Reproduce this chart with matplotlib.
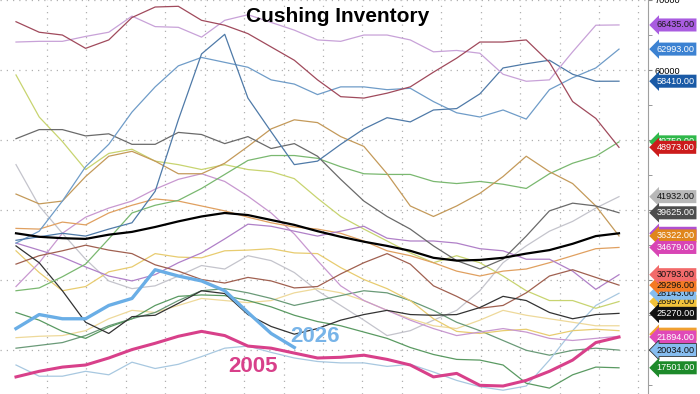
import matplotlib
matplotlib.use("Agg")
import matplotlib.pyplot as plt
import matplotlib.font_manager as fm
from matplotlib.ticker import MultipleLocator
import numpy as np

# biweekly points through the year, values in thousand barrels
weeks = list(range(0, 53, 2))
weeks_2026 = weeks[:13]

y_maroon = [66.9, 65.4, 65.0, 63.1, 64.3, 67.5, 69.0, 69.1, 67.1, 66.4, 65.2, 63.3, 61.4, 58.6, 56.2, 56.0, 56.7, 57.6, 59.7, 61.7, 64.0, 64.0, 64.3, 61.1, 55.5, 53.1, 48.97]
y_lavender = [64.0, 64.1, 64.1, 64.8, 65.4, 67.7, 66.2, 66.1, 64.7, 67.1, 67.9, 66.8, 65.7, 64.3, 64.1, 65.0, 65.0, 64.3, 62.6, 62.8, 62.4, 59.4, 58.4, 58.6, 62.6, 66.4, 66.44]
y_peak = [35.7, 36.2, 36.7, 36.3, 37.3, 38.2, 42.7, 52.9, 62.3, 65.1, 56.0, 51.2, 46.5, 47.0, 49.4, 51.6, 53.2, 52.6, 54.3, 54.5, 56.6, 60.3, 60.9, 61.4, 59.4, 58.4, 58.41]
y_blue = [35.3, 37.0, 41.3, 46.2, 49.4, 54.0, 57.6, 60.6, 61.8, 61.1, 60.4, 58.6, 58.0, 56.5, 57.6, 57.6, 57.2, 57.4, 55.5, 53.9, 53.3, 54.3, 53.0, 57.2, 58.9, 60.3, 62.99]
y_darkgray = [50.2, 51.5, 51.5, 50.6, 50.9, 49.4, 49.4, 51.1, 50.8, 49.5, 50.5, 48.8, 49.5, 47.7, 44.4, 41.3, 39.1, 37.3, 34.9, 32.8, 31.6, 33.0, 36.3, 39.9, 41.0, 40.6, 39.63]
y_tan = [42.3, 40.9, 41.3, 44.8, 47.7, 48.4, 47.0, 45.2, 45.2, 46.7, 49.1, 51.6, 52.9, 52.5, 50.5, 49.1, 45.2, 40.6, 39.1, 40.6, 42.4, 44.8, 47.7, 45.5, 43.8, 40.6, 36.32]
y_green = [28.5, 28.9, 30.5, 32.3, 35.9, 39.6, 40.7, 41.4, 43.1, 45.1, 47.1, 47.8, 47.8, 47.4, 46.2, 45.2, 45.1, 45.1, 44.1, 43.8, 44.1, 43.7, 43.1, 45.2, 46.7, 47.7, 49.75]
y_average = [36.7, 36.2, 36.0, 35.9, 36.5, 36.9, 37.6, 38.4, 39.1, 39.6, 39.3, 38.6, 37.9, 37.0, 36.2, 35.5, 34.9, 34.2, 33.2, 32.8, 32.9, 33.2, 33.8, 34.3, 35.2, 36.3, 36.7]
y_2026 = [23.1, 25.1, 24.5, 24.5, 26.4, 27.4, 31.5, 30.6, 29.9, 28.5, 25.4, 22.4, 20.4]
y_2005 = [16.2, 17.0, 17.6, 17.9, 18.9, 20.1, 21.0, 22.0, 22.7, 22.1, 20.6, 20.3, 19.6, 18.9, 19.0, 19.3, 18.7, 17.9, 16.2, 16.7, 15.0, 14.9, 15.7, 17.0, 18.6, 21.1, 21.89]
y_black = [34.9, 32.5, 28.5, 24.0, 22.4, 24.8, 25.0, 26.7, 28.5, 28.1, 25.1, 23.4, 22.3, 23.1, 24.3, 25.1, 25.7, 25.1, 25.0, 25.1, 26.1, 27.7, 27.1, 25.4, 24.5, 25.1, 25.27]
y_brown = [32.3, 33.5, 34.2, 35.0, 34.3, 33.8, 32.2, 31.3, 30.1, 29.6, 30.4, 29.9, 28.9, 29.1, 30.9, 32.5, 33.8, 32.3, 29.2, 27.7, 26.0, 26.4, 28.2, 30.6, 31.5, 30.4, 29.3]
y_purple = [35.3, 34.3, 33.3, 31.9, 30.6, 29.9, 30.8, 32.5, 33.9, 35.9, 38.0, 37.7, 37.0, 36.3, 37.0, 37.7, 36.0, 35.6, 35.6, 35.3, 34.5, 34.2, 33.0, 33.0, 31.3, 28.7, 30.79]
y_orange = [37.4, 37.3, 38.3, 37.9, 39.6, 40.7, 41.6, 41.3, 40.6, 39.9, 39.0, 38.2, 37.6, 37.3, 36.7, 35.6, 34.2, 33.5, 32.5, 31.3, 30.6, 31.3, 31.6, 32.5, 33.5, 34.5, 34.68]
y_yellow = [34.2, 31.1, 28.5, 29.1, 31.2, 31.9, 33.8, 33.3, 33.2, 34.2, 34.3, 34.5, 33.9, 33.8, 31.8, 30.1, 28.8, 27.1, 24.5, 22.7, 22.4, 22.8, 23.0, 22.1, 22.8, 23.0, 22.8]
y_lilac = [29.1, 32.5, 36.7, 39.0, 40.3, 41.3, 43.0, 44.4, 45.2, 44.1, 42.0, 39.6, 36.6, 32.8, 29.2, 27.1, 25.7, 24.3, 23.1, 22.1, 22.6, 23.1, 22.6, 21.7, 21.4, 21.7, 22.0]
y_darkgreen = [25.4, 24.3, 22.7, 21.7, 23.3, 24.5, 26.4, 27.7, 27.9, 27.8, 27.1, 26.2, 25.0, 24.1, 23.5, 22.6, 21.7, 20.4, 19.4, 18.7, 18.6, 17.9, 15.3, 14.6, 16.5, 17.6, 17.5]
y_lightgray = [46.5, 40.6, 36.7, 33.0, 29.9, 28.8, 29.2, 30.6, 32.1, 31.6, 33.5, 32.8, 31.1, 28.5, 26.4, 24.3, 22.1, 22.8, 24.3, 25.7, 28.5, 32.5, 34.9, 37.0, 38.4, 40.3, 41.93]
y_yellowgreen = [59.3, 53.3, 49.8, 45.8, 48.1, 48.7, 47.0, 46.5, 45.8, 46.5, 45.8, 45.5, 44.5, 41.7, 39.1, 37.3, 35.6, 33.9, 32.5, 33.5, 32.5, 30.6, 28.5, 27.1, 27.1, 26.0, 26.96]
y_paleyellow = [21.8, 22.0, 22.1, 22.8, 24.5, 25.7, 25.4, 26.4, 27.4, 27.1, 26.8, 27.1, 28.2, 28.8, 28.2, 27.1, 25.7, 24.5, 23.5, 23.1, 24.3, 25.7, 25.0, 24.5, 24.0, 23.5, 23.5]
y_lightblue = [17.9, 16.3, 16.3, 17.0, 16.5, 18.3, 17.4, 18.0, 19.1, 20.3, 20.6, 19.7, 18.9, 18.4, 18.2, 18.2, 17.7, 18.0, 16.9, 15.7, 14.8, 14.3, 14.9, 18.6, 22.8, 26.4, 28.14]
y_greengray = [20.3, 20.7, 21.1, 22.1, 23.5, 24.5, 25.4, 27.1, 28.5, 28.8, 28.2, 27.4, 26.4, 27.1, 27.8, 28.5, 28.2, 27.1, 25.7, 24.0, 22.8, 21.4, 20.0, 19.3, 20.0, 20.3, 20.03]

# last-value tags on the right axis
tag_text = ["49750.00", "48973.00", "66435.00", "62993.00", "58410.00", "41932.00", "39625.00",
            "36700.00", "36322.00", "34679.00", "26957.00", "25270.00", "28143.00", "29296.00",
            "30793.00", "22300.00", "21894.00", "20034.00", "17501.00"]
tag_value = [49.75, 48.973, 66.435, 62.993, 58.41, 41.932, 39.625, 36.7, 36.322, 34.679,
             26.957, 25.27, 28.143, 29.296, 30.793, 22.3, 21.894, 20.034, 17.501]
tag_color = ["#2fb84a", "#cc1b1b", "#a95ce0", "#3c82d2", "#1a5aa6", "#b8b8b8", "#4d4d4d",
             "#b050d0", "#e0861c", "#d845b5", "#f2c23a", "#111111", "#86bdf0", "#f47a24",
             "#f26a6a", "#f0a030", "#e04ab8", "#86bdf0", "#1d8a2a"]
tag_textcolor = ["white", "white", "#1a1a1a", "white", "white", "#111111", "white",
                 "white", "white", "white", "#111111", "white", "#111111", "#111111",
                 "#111111", "#111111", "white", "#111111", "white"]

names = {f.name for f in fm.fontManager.ttflist}
tag_font = "Liberation Sans Narrow" if "Liberation Sans Narrow" in names else "Liberation Sans"
tag_size = 7.8 if tag_font == "Liberation Sans Narrow" else 6.6

fig = plt.figure(figsize=(7, 3.94), dpi=100)
ax = fig.add_axes([0, 0, 648 / 700, 1])

thin = [
    (y_lightgray, "#c4c4cc"), (y_paleyellow, "#eed99a"), (y_greengray, "#6a9a78"),
    (y_lightblue, "#a8c8e0"), (y_yellowgreen, "#c8d470"), (y_yellow, "#e8cc70"),
    (y_lilac, "#c898d0"), (y_orange, "#e0a060"), (y_purple, "#b080c8"),
    (y_brown, "#a06050"), (y_darkgreen, "#5a9a62"), (y_black, "#333333"),
    (y_green, "#7ab870"), (y_tan, "#c49a5a"), (y_darkgray, "#6a6a6a"),
    (y_blue, "#6f9cc8"), (y_peak, "#4f7aa8"), (y_lavender, "#c8a2d8"),
    (y_maroon, "#a04a5c"),
]
for vals, col in thin:
    ax.plot(weeks, np.array(vals) * 1000, color=col, lw=0.9, zorder=2)

ax.plot(weeks, np.array(y_average) * 1000, color="black", lw=1.6, zorder=3)
ax.plot(weeks, np.array(y_2005) * 1000, color="#d8408a", lw=2.2, zorder=4)
ax.plot(weeks_2026, np.array(y_2026) * 1000, color="#6aaee6", lw=2.4, zorder=4)

ax.set_xlim(-1.38, 54.5)
ax.set_ylim(13760, 69650)

ax.set_xticks(np.arange(2.67, 54, 3.40))
ax.set_yticks(range(20000, 70001, 10000))
ax.yaxis.set_minor_locator(MultipleLocator(5000))
ax.yaxis.tick_right()
ax.tick_params(axis="x", length=0, labelbottom=False)
ax.tick_params(axis="y", which="both", direction="out", length=3, color="#888888",
               labelsize=tag_size, pad=2)
for lab in ax.get_yticklabels():
    lab.set_family(tag_font)
ax.grid(True, color="#b0b0b0", lw=0.9, linestyle=(0, (1, 4)))
for side in ["left", "top", "bottom"]:
    ax.spines[side].set_visible(False)
ax.spines["right"].set_color("#a0a0a0")

for t, v, fc, tc in zip(tag_text, tag_value, tag_color, tag_textcolor):
    ec = "#333333" if t == "20034.00" else "none"
    ax.annotate(t, xy=(1.0, v * 1000), xycoords=("axes fraction", "data"),
                xytext=(6, 0), textcoords="offset points", ha="left", va="center",
                fontsize=tag_size, family=tag_font, color=tc, annotation_clip=False,
                bbox=dict(boxstyle="larrow,pad=0.22", fc=fc, ec=ec, lw=0.6), zorder=6)

fig.text(0.483, 0.957, "Cushing Inventory", ha="center", va="center", fontsize=15,
         fontweight="bold", family="Liberation Sans")
ax.text(0.390, 0.069, "2005", transform=ax.transAxes, ha="center", va="center",
        fontsize=16, fontweight="bold", color="#d8408a", family="Liberation Sans", zorder=7)
ax.text(0.486, 0.147, "2026", transform=ax.transAxes, ha="center", va="center",
        fontsize=16, fontweight="bold", color="#78b4e8", family="Liberation Sans", zorder=7)

fig.savefig("out.png", dpi=100)
